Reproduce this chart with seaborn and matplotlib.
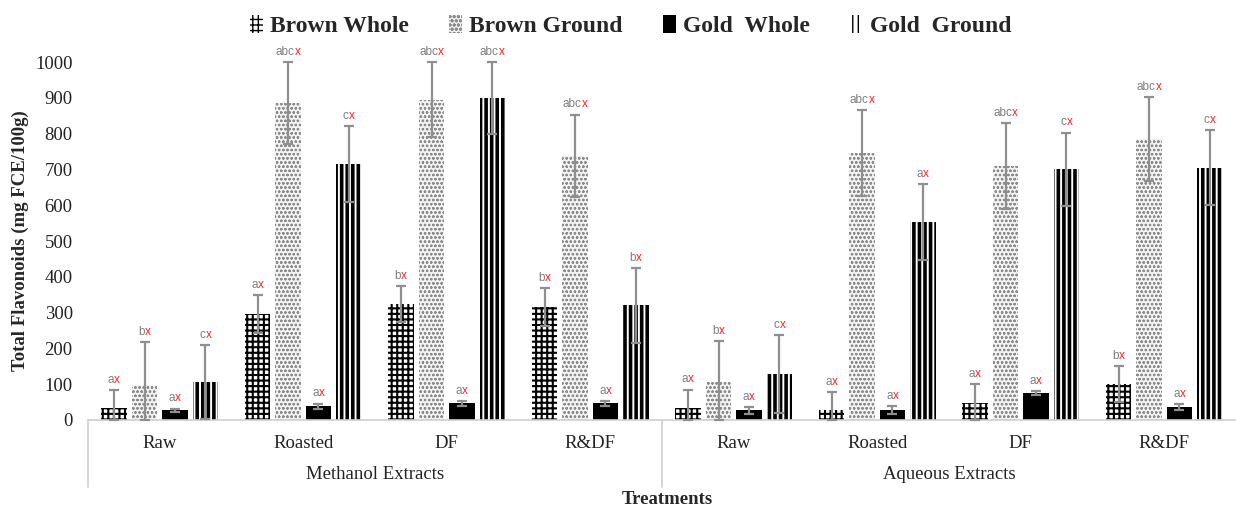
import numpy as np
import pandas as pd
import seaborn as sns
import matplotlib
matplotlib.use("Agg")
import matplotlib.pyplot as plt
import matplotlib.patches as mpatches

# ---- data -------------------------------------------------------------
extracts = ["Methanol Extracts", "Aqueous Extracts"]
treatments = ["Raw", "Roasted", "DF", "R&DF"]
samples = ["Brown Whole", "Brown Ground", "Gold  Whole", "Gold  Ground"]

# mean total flavonoids (mg FCE/100g), one list per sample, 8 groups each
brown_whole = [33, 295, 325, 315, 33, 28, 48, 100]
brown_ground = [98, 885, 895, 738, 105, 745, 710, 785]
gold_whole = [27, 38, 47, 47, 27, 28, 75, 37]
gold_ground = [107, 715, 900, 320, 128, 553, 700, 705]

# standard deviations
brown_whole_sd = [50, 53, 50, 53, 52, 50, 52, 50]
brown_ground_sd = [120, 115, 105, 115, 115, 120, 120, 118]
gold_whole_sd = [5, 8, 7, 7, 10, 10, 5, 8]
gold_ground_sd = [103, 105, 100, 105, 109, 107, 103, 105]

# significance letters (grey part) – every label ends in a red "x"
brown_whole_sig = ["a", "a", "b", "b", "a", "a", "a", "b"]
brown_ground_sig = ["b", "abc", "abc", "abc", "b", "abc", "abc", "abc"]
gold_whole_sig = ["a", "a", "a", "a", "a", "a", "a", "a"]
gold_ground_sig = ["c", "c", "abc", "b", "c", "a", "c", "c"]

groups = [f"{e}|{t}" for e in extracts for t in treatments]
means = [brown_whole, brown_ground, gold_whole, gold_ground]
sds = [brown_whole_sd, brown_ground_sd, gold_whole_sd, gold_ground_sd]
sigs = [brown_whole_sig, brown_ground_sig, gold_whole_sig, gold_ground_sig]

rows = []
for s, m, sd, sg in zip(samples, means, sds, sigs):
    for g, v, e, l in zip(groups, m, sd, sg):
        rows.append({"group": g, "sample": s, "value": v, "sd": e, "sig": l})
df = pd.DataFrame(rows)

# ---- styling ----------------------------------------------------------
sns.set_style("white")
plt.rcParams["font.family"] = ["Liberation Serif", "DejaVu Serif"]
plt.rcParams["hatch.linewidth"] = 1.0

face = {"Brown Whole": "white", "Brown Ground": "#f3f3f3",
        "Gold  Whole": "black", "Gold  Ground": "white"}
edge = {"Brown Whole": "black", "Brown Ground": "#8c8c8c",
        "Gold  Whole": "black", "Gold  Ground": "black"}
hatch = {"Brown Whole": "+++", "Brown Ground": "oooo",
         "Gold  Whole": "", "Gold  Ground": "|||"}
hlw = {"Brown Whole": 1.5, "Brown Ground": 0.6,
       "Gold  Whole": 1.0, "Gold  Ground": 2.6}

fig = plt.figure(figsize=(12.36, 5.09), dpi=100)
ax = fig.add_axes([88 / 1236, 89 / 509, 1148 / 1236, 358 / 509])

sns.barplot(data=df, x="group", y="value", hue="sample", order=groups,
            hue_order=samples, palette=face, errorbar=None, width=0.85,
            gap=0.15, legend=False, ax=ax)

# hatches and error bars, bar by bar
lookup = df.set_index(["group", "sample"])
for s, cont in zip(samples, ax.containers):
    for patch in cont.patches:
        xc = patch.get_x() + patch.get_width() / 2
        g = groups[int(round(xc))]
        rec = lookup.loc[(g, s)]
        patch.set_edgecolor(edge[s])
        patch.set_linewidth(0)
        patch.set_hatch(hatch[s])
        if hasattr(patch, "set_hatch_linewidth"):
            patch.set_hatch_linewidth(hlw[s])
        top = rec["value"] + rec["sd"]
        lower = min(rec["sd"], rec["value"])
        ax.errorbar(xc, rec["value"], yerr=[[lower], [rec["sd"]]], fmt="none",
                    ecolor="#8f8f8f", elinewidth=1.6, capsize=3.5,
                    capthick=1.6, clip_on=False, zorder=5)
        grey = ax.annotate(rec["sig"], xy=(xc, top), xytext=(-2.2, 3),
                           textcoords="offset points", ha="center",
                           va="bottom", color="#7f7f7f", fontsize=8.5,
                           family="Liberation Sans", annotation_clip=False)
        ax.annotate("x", xy=(1, 0), xycoords=grey, ha="left", va="bottom",
                    color="#ff2020", fontsize=8.5, family="Liberation Sans",
                    annotation_clip=False)

# ---- axes -------------------------------------------------------------
ax.set_xlim(-0.5, 7.5)
ax.set_ylim(0, 1000)
ax.set_yticks(np.arange(0, 1001, 100))
ax.set_xticks(range(len(groups)))
ax.set_xticklabels([g.split("|")[1] for g in groups])
ax.tick_params(axis="both", length=0, labelsize=13.5, colors="#222222")
ax.tick_params(axis="x", pad=11)
ax.tick_params(axis="y", pad=11)
ax.set_xlabel("")
ax.set_ylabel("Total Flavonoids (mg FCE/100g)", fontsize=13.5,
              fontweight="bold")
ax.yaxis.set_label_coords(-0.051, 0.5)
for side in ("left", "top", "right"):
    ax.spines[side].set_visible(False)
ax.spines["bottom"].set_color("#d0d0d0")
ax.spines["bottom"].set_linewidth(1.2)

# extract grouping under the treatment labels
for xb in (-0.5, 3.5):
    ax.plot([xb, xb], [0, -0.188], color="#d0d0d0", lw=1.2,
            transform=ax.get_xaxis_transform(), clip_on=False)
for i, e in enumerate(extracts):
    ax.text(1.5 + 4 * i, -0.153, e, transform=ax.get_xaxis_transform(),
            ha="center", va="center", fontsize=13.5, color="#222222")
fig.text(667 / 1236, 1 - 500 / 509, "Treatments", ha="center", va="center",
         fontsize=13.5, fontweight="bold")

# ---- legend -----------------------------------------------------------
handles = [mpatches.Patch(facecolor=face[s], edgecolor=edge[s], hatch=hatch[s],
                          linewidth=0, label=s) for s in samples]
fig.legend(handles=handles, loc="center", bbox_to_anchor=(631 / 1236, 1 - 26 / 509),
           ncol=4, frameon=False, handlelength=0.55, handleheight=0.8,
           handletextpad=0.3, columnspacing=1.7,
           prop={"family": "Liberation Serif", "weight": "bold", "size": 17})

fig.savefig("out.png", dpi=100)
